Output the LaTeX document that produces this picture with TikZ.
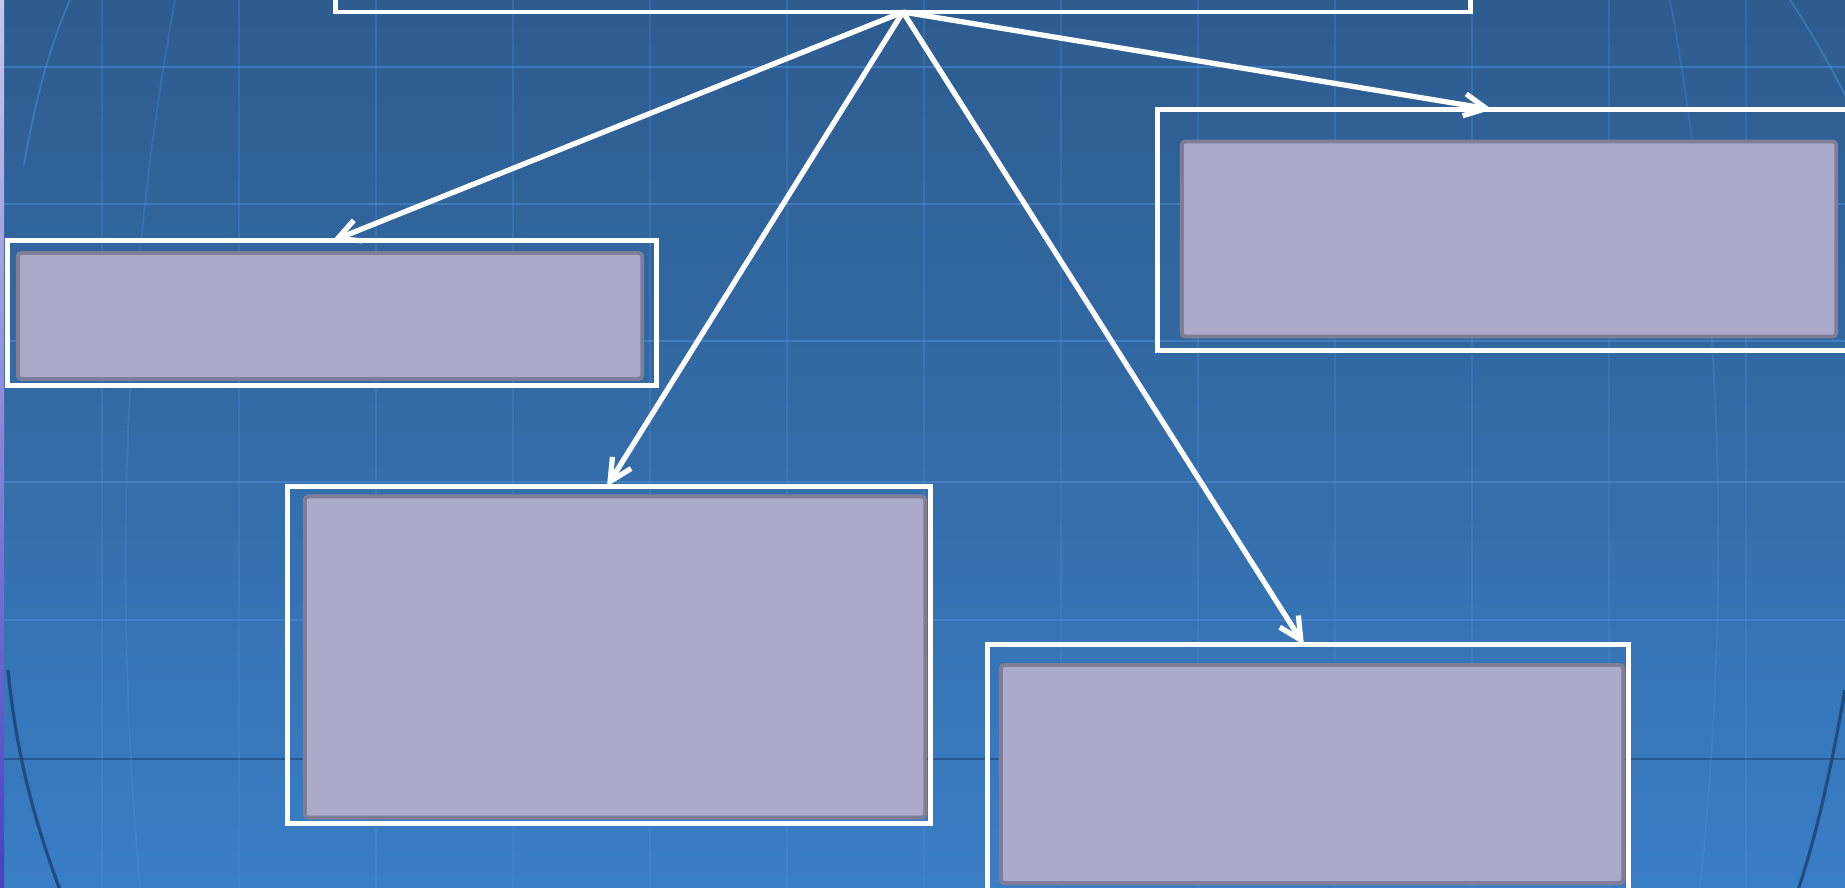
\documentclass[tikz,border=0pt]{standalone}
\usepackage{xcolor}
\usepackage{tikz}
\usetikzlibrary{arrows.meta, positioning}
\definecolor{bgtop}{HTML}{2D5C8F}
\definecolor{bgmid}{HTML}{336CA8}
\definecolor{bgbot}{HTML}{3A7EC6}
\definecolor{gridblue}{HTML}{4F90D8}
\definecolor{rimblue}{HTML}{1E4C7E}
\definecolor{cardfill}{HTML}{AAAACA}
\definecolor{cardline}{HTML}{7E7E98}
\definecolor{stripfaint}{HTML}{C8C8EC}
\definecolor{stripdeep}{HTML}{4A3EC2}

\begin{document}
\begin{tikzpicture}[x=0.01cm, y=-0.01cm,
    holder/.style={rectangle, draw=white, line width=1.4pt, inner sep=0pt, outer sep=0pt},
    card/.style={rectangle, rounded corners=1pt, draw=cardline, fill=cardfill, line width=1.1pt, inner sep=0pt},
    arrow/.style={-{Straight Barb[length=2.2mm, width=2.2mm]}, white, line width=1.5pt},
    gridline/.style={gridblue, line width=0.6pt, opacity=0.55},
    meridian/.style={gridblue, line width=0.5pt, opacity=0.3}
]
\useasboundingbox (0,0) rectangle (1845,888);
\clip (0,0) rectangle (1845,888);
% background
\fill[top color=bgtop, bottom color=bgbot, middle color=bgmid] (0,0) rectangle (1845,888);
\foreach \y in {67,204,341,482,620}
    \draw[gridline] (0,\y) -- (1845,\y);
\draw[rimblue, line width=0.6pt, opacity=0.7] (0,759) -- (1845,759);
\foreach \x in {102,239,376,513,650,787,924,1061,1198,1335,1472,1609,1746}
    \draw[meridian] (\x,0) -- (\x,888);
\draw[meridian, opacity=0.5] (24,165) .. controls (35,100) and (50,45) .. (70,0);
\draw[meridian] (175,0) .. controls (120,300) and (115,600) .. (140,888);
\draw[meridian] (1670,0) .. controls (1725,300) and (1730,600) .. (1700,888);
\draw[meridian, opacity=0.5] (1790,0) .. controls (1810,30) and (1830,65) .. (1845,95);
\draw[rimblue, line width=0.9pt] (8,670) .. controls (17,760) and (36,825) .. (60,890);
\draw[rimblue, line width=0.9pt] (1845,690) .. controls (1830,775) and (1815,840) .. (1798,890);
\fill[top color=stripfaint, bottom color=stripdeep] (0,0) rectangle (4,888);

% boxes
\node[holder, minimum width=11.34cm, minimum height=0.72cm] (head) at (903,-24) {};
\node[holder, minimum width=6.49cm, minimum height=1.44cm] (upperleft) at (332,313) {};
\node[card, minimum width=6.24cm, minimum height=1.26cm] (upperleftin) at (330,316) {};
\node[holder, minimum width=6.98cm, minimum height=2.41cm] (upperright) at (1507,230) {};
\node[card, minimum width=6.54cm, minimum height=1.95cm] (upperrightin) at (1509,239) {};
\node[holder, minimum width=6.42cm, minimum height=3.37cm] (lowerleft) at (609,655) {};
\node[card, minimum width=6.20cm, minimum height=3.21cm] (lowerleftin) at (615,657) {};
\node[holder, minimum width=6.41cm, minimum height=2.48cm] (lowerright) at (1308,769) {};
\node[card, minimum width=6.22cm, minimum height=2.18cm] (lowerrightin) at (1312,774) {};

% arrows
\draw[arrow] (head.south) -- (upperleft.north);
\draw[arrow] (head.south) -- ([xshift=-0.02cm]lowerleft.north);
\draw[arrow] (head.south) -- ([xshift=-0.04cm]lowerright.north);
\draw[arrow] (head.south) -- ([xshift=-0.15cm]upperright.north);
\end{tikzpicture}
\end{document}
